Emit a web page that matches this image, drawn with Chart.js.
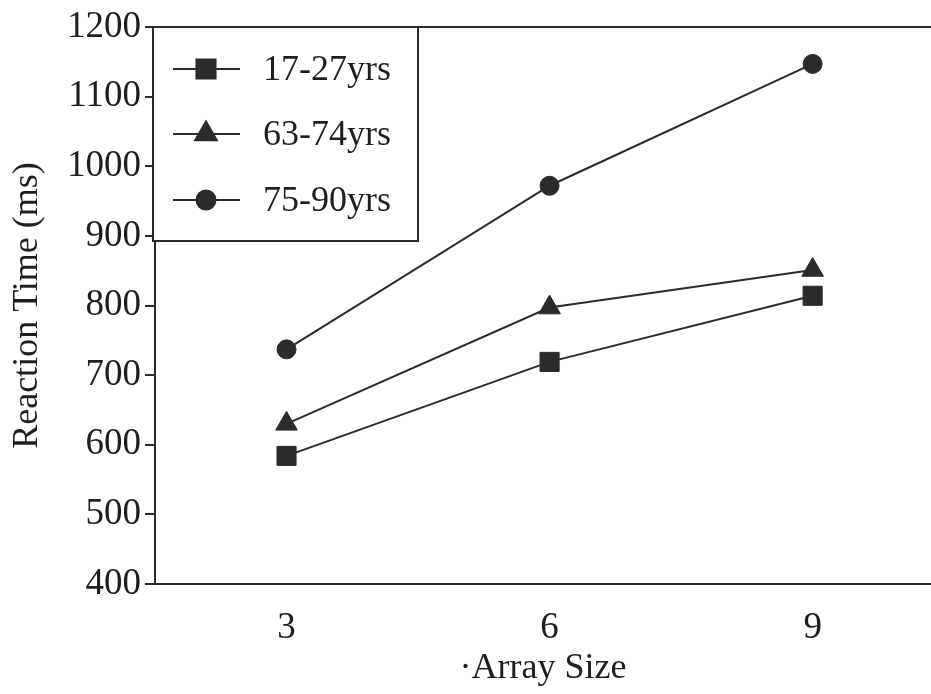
<!DOCTYPE html>
<html>
<head>
<meta charset="utf-8">
<script src="https://cdn.jsdelivr.net/npm/chart.js@4/dist/chart.umd.min.js"></script>
<style>
  html, body { margin: 0; padding: 0; background: #ffffff; }
  #wrap { width: 931px; height: 694px; }
</style>
</head>
<body>
<div id="wrap"><canvas id="c" width="931" height="694"></canvas></div>
<script>
const arraySizes = [3, 6, 9];
const young = [584, 719, 814];
const oldA = [630, 797, 851];
const oldB = [737, 972, 1147];
const seriesLabels = ['17-27yrs', '63-74yrs', '75-90yrs'];
const yTicks = [400, 500, 600, 700, 800, 900, 1000, 1100, 1200];
const xTitle = '\u00B7Array Size';
const yTitle = 'Reaction Time (ms)';

const INK = '#2b2b2b';
const FONT = "'Liberation Serif', 'Times New Roman', serif";

function pts(vals) { return arraySizes.map((x, i) => ({ x: x, y: vals[i] })); }

const datasets = [
  { label: seriesLabels[0], data: pts(young), pointStyle: 'rect', pointRadius: 13.5 },
  { label: seriesLabels[1], data: pts(oldA), pointStyle: 'triangle', pointRadius: 12.5 },
  { label: seriesLabels[2], data: pts(oldB), pointStyle: 'circle', pointRadius: 9.5 }
].map(d => Object.assign(d, {
  borderColor: INK, backgroundColor: INK, borderWidth: 2,
  pointBorderColor: INK, pointBackgroundColor: INK, pointBorderWidth: 1,
  showLine: true, tension: 0, fill: false
}));

const framePlugin = {
  id: 'frame',
  afterDraw(chart) {
    const ctx = chart.ctx, a = chart.chartArea;
    ctx.save();
    ctx.strokeStyle = INK;
    ctx.lineWidth = 2;
    ctx.beginPath();
    ctx.moveTo(a.left, a.top);
    ctx.lineTo(a.right, a.top);
    ctx.stroke();

    // legend box
    const bx = a.left - 2, by = a.top, bw = 265, bh = 214;
    ctx.fillStyle = '#ffffff';
    ctx.fillRect(bx, by, bw, bh);
    ctx.strokeRect(bx, by, bw, bh);
    const rows = [42, 107, 173];
    chart.data.datasets.forEach((ds, i) => {
      const y = by + rows[i];
      ctx.strokeStyle = INK;
      ctx.lineWidth = 2;
      ctx.beginPath();
      ctx.moveTo(bx + 20, y);
      ctx.lineTo(bx + 87, y);
      ctx.stroke();
      ctx.fillStyle = INK;
      Chart.helpers.drawPoint(ctx, {
        pointStyle: ds.pointStyle, radius: ds.pointRadius, rotation: 0, borderWidth: 1
      }, bx + 53, y);
      ctx.fill();
      ctx.font = '36px ' + FONT;
      ctx.fillStyle = '#1e1e1e';
      ctx.textAlign = 'left';
      ctx.textBaseline = 'middle';
      ctx.fillText(ds.label, bx + 110, y + 2);
    });
    ctx.restore();
  }
};

new Chart(document.getElementById('c'), {
  type: 'scatter',
  data: { datasets: datasets },
  plugins: [framePlugin],
  options: {
    responsive: false,
    animation: false,
    layout: { autoPadding: false, padding: { top: 27, right: 0, bottom: 0, left: 0 } },
    plugins: { legend: { display: false }, tooltip: { enabled: false } },
    scales: {
      x: {
        type: 'linear', min: 1.5, max: 10.35,
        afterBuildTicks: s => { s.ticks = arraySizes.map(v => ({ value: v })); },
        afterFit: s => { s.height = 110; s.paddingLeft = 0; s.paddingRight = 0; },
        grid: { display: true, drawOnChartArea: false, drawTicks: false },
        border: { display: true, color: INK, width: 2 },
        ticks: { color: '#1e1e1e', font: { family: FONT, size: 37 }, padding: 22, callback: v => String(v) },
        title: { display: true, text: xTitle, color: '#1e1e1e', font: { family: FONT, size: 36 }, padding: { top: 0 } }
      },
      y: {
        type: 'linear', min: 400, max: 1200,
        afterBuildTicks: s => { s.ticks = yTicks.map(v => ({ value: v })); },
        afterFit: s => { s.width = 155; },
        grid: { display: true, drawOnChartArea: false, drawTicks: true, tickLength: 10, color: INK, lineWidth: 2 },
        border: { display: true, color: INK, width: 2 },
        ticks: { color: '#1e1e1e', font: { family: FONT, size: 37 }, padding: 4, callback: v => String(v) },
        title: { display: true, text: yTitle, color: '#1e1e1e', font: { family: FONT, size: 36 }, padding: { top: 6, bottom: 0 } }
      }
    }
  }
});
</script>
</body>
</html>
